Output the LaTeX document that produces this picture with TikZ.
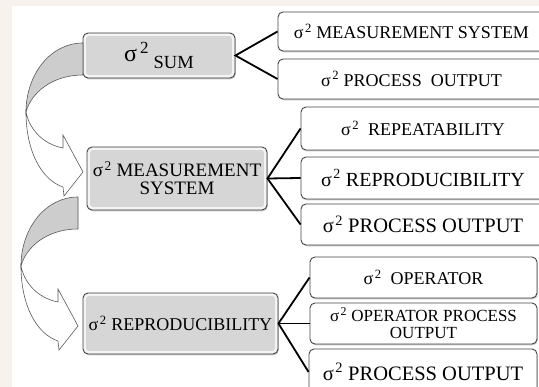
\documentclass[tikz,border=0pt]{standalone}
\usepackage{fontspec}
\setmainfont{Liberation Serif}
\usetikzlibrary{shadows}
\definecolor{boxgray}{RGB}{214,214,214}
\definecolor{arrowfill}{RGB}{205,205,205}
\definecolor{edgegray}{RGB}{70,70,70}
\definecolor{wm}{RGB}{248,242,239}
\newcommand\sq{σ\kern1.5pt\textsuperscript{2}}
\newcommand\fs[1]{\fontsize{#1}{#1}\selectfont}
\newcommand\bentarrow{%
  \filldraw[arrowback] (83,43) .. controls (50,43) and (26,75) .. (26,112)
     .. controls (31,93) and (52,75) .. (83,75) -- cycle;
  \filldraw[arrowfront] (26,112) .. controls (26,152) and (42,180) .. (63,187)
     -- (64,196) -- (83,172) -- (63,135) -- (63,148)
     .. controls (42,144) and (29,128) .. (26,112) -- cycle;
}
\tikzset{
  shad/.style={drop shadow={shadow xshift=0.8pt,shadow yshift=-1.3pt,opacity=0.35,fill=black!60}},
  graybox/.style={shad,draw=edgegray,line width=0.9pt,rounded corners=5pt,fill=boxgray,
    inner sep=0pt,align=center,
    path picture={\draw[white,opacity=0.75,line width=2.6pt,rounded corners=4pt]
      ([shift={(1.6pt,-1.6pt)}]path picture bounding box.north west) rectangle
      ([shift={(-1.6pt,1.6pt)}]path picture bounding box.south east);}},
  whitebox/.style={shad,draw=edgegray,line width=0.9pt,rounded corners=5pt,fill=white,
    inner sep=0pt,align=center},
  link/.style={line width=1.8pt,black},
  arrowback/.style={draw=black!65,line width=0.6pt,fill=arrowfill},
  arrowfront/.style={draw=black!65,line width=0.6pt,fill=white},
}
\begin{document}
\begin{tikzpicture}[x=1pt,y=-1pt]
\useasboundingbox (0,0) rectangle (539,387);
\fill[wm] (0,0) rectangle (539,387);
\fill[white] (12,6) rectangle (539,387);

% left column
\node[graybox,minimum width=152pt,minimum height=45pt] (sum) at (159,55.5)
  {{\fs{24}σ}\kern3pt\raisebox{8pt}{\fs{17}2}\kern5pt\raisebox{-7pt}{\fs{18.5}SUM}};
\node[graybox,minimum width=180pt,minimum height=63pt,font={\fontsize{19}{18}\selectfont}] (ms) at (177,178.5)
  {\sq\ MEASUREMENT\\SYSTEM};
\node[graybox,minimum width=195pt,minimum height=61pt,font=\fs{18}] (rep) at (180.5,323.5)
  {\sq\ REPRODUCIBILITY};

% right column
\node[whitebox,minimum width=267pt,minimum height=39pt,font=\fs{18}] (r1) at (411.5,31.5)
  {\sq\ MEASUREMENT SYSTEM};
\node[whitebox,minimum width=267pt,minimum height=40pt,font=\fs{18}] (r2) at (411.5,79)
  {\sq\ PROCESS\ \ OUTPUT};
\node[whitebox,minimum width=244pt,minimum height=43pt,font=\fs{18}] (r3) at (423,128.5)
  {\sq\ \ REPEATABILITY};
\node[whitebox,minimum width=244pt,minimum height=42pt,font=\fs{20}] (r4) at (423,178)
  {\sq\ REPRODUCIBILITY};
\node[whitebox,minimum width=244pt,minimum height=41pt,font=\fs{20.5}] (r5) at (423,224.5)
  {\sq\ PROCESS OUTPUT};
\node[whitebox,minimum width=227pt,minimum height=41pt,font=\fs{18}] (r6) at (423.5,277.5)
  {\sq\ \ OPERATOR};
\node[whitebox,minimum width=227pt,minimum height=41pt,font={\fontsize{17}{17}\selectfont}] (r7) at (423.5,323.5)
  {\sq\ OPERATOR PROCESS\\OUTPUT};
\node[whitebox,minimum width=228pt,minimum height=46pt,font=\fs{20.5}] (r8) at (423,372)
  {\sq\ PROCESS OUTPUT};

% connectors
\draw[link] (r1.west) -- (sum.east) -- (r2.west);
\draw[link] (r3.west) -- (ms.east) -- (r5.west);
\draw[link] (ms.east) -- (r4.west);
\draw[link] (r6.west) -- (rep.east) -- (r8.west);
\draw[link] (rep.east) -- (r7.west);

% curved block arrows
\bentarrow
\begin{scope}[shift={(-5,154)}]
\bentarrow
\end{scope}
\end{tikzpicture}
\end{document}
